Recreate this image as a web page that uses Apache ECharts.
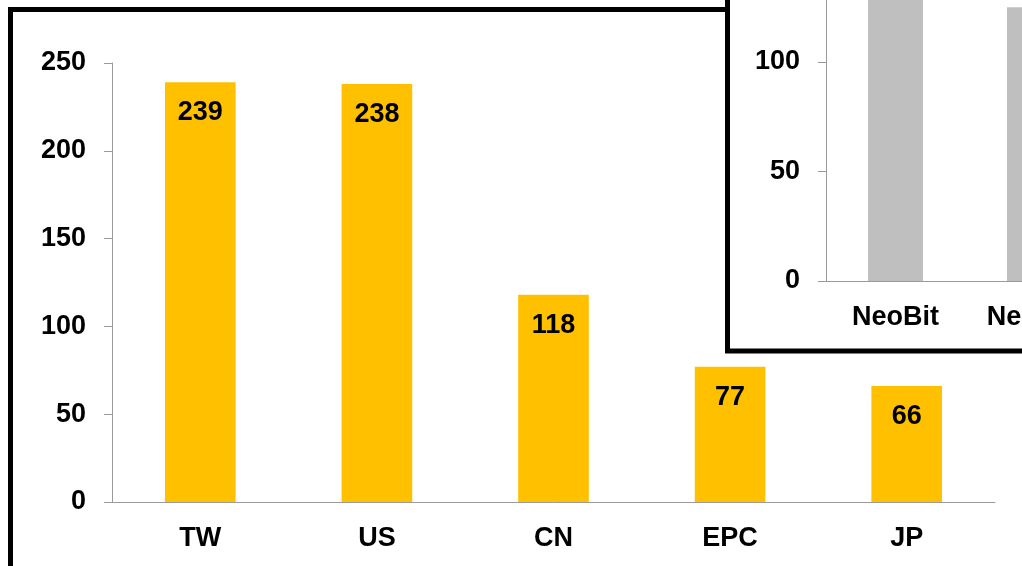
<!DOCTYPE html>
<html><head><meta charset="utf-8">
<script src="https://cdn.jsdelivr.net/npm/echarts@6/dist/echarts.min.js"></script>
<style>html,body{margin:0;padding:0;background:#fff}#c{width:1022px;height:566px}</style>
</head><body><div id="c"></div>
<script>
var mainCategories = ['TW', 'US', 'CN', 'EPC', 'JP'];
var mainValues = [239, 238, 118, 77, 66];
var insetCategories = ['NeoBit', 'NeoTec'];
var insetValues = [150, 125];

var FONT = '"Liberation Sans", Arial, sans-serif';
var axisGray = '#9a9a9a';

var chart = echarts.init(document.getElementById('c'), null, {renderer: 'canvas'});
chart.setOption({
  backgroundColor: '#ffffff',
  animation: false,
  grid: [
    {left: 112, right: 27, top: 63, bottom: 64, outerBoundsMode: 'none', containLabel: false},
    {left: 826, width: 278, bottom: 285, height: 328.5, z: 10, outerBoundsMode: 'none', containLabel: false}
  ],
  xAxis: [
    {
      type: 'category', gridIndex: 0, data: mainCategories,
      axisLine: {lineStyle: {color: axisGray, width: 1}},
      axisTick: {length: 8, lineStyle: {color: axisGray}},
      axisLabel: {color: '#000', fontFamily: FONT, fontSize: 27, fontWeight: 'bold', margin: 23}
    },
    {
      type: 'category', gridIndex: 1, data: insetCategories, z: 10,
      axisLine: {lineStyle: {color: axisGray, width: 1}},
      axisTick: {length: 8, lineStyle: {color: axisGray}},
      axisLabel: {color: '#000', fontFamily: FONT, fontSize: 27, fontWeight: 'bold', margin: 23,
        interval: 0, hideOverlap: false}
    }
  ],
  yAxis: [
    {
      type: 'value', gridIndex: 0, min: 0, max: 250, interval: 50,
      splitLine: {show: false},
      axisLine: {show: true, lineStyle: {color: axisGray, width: 1}},
      axisTick: {show: true, length: 8, lineStyle: {color: axisGray}},
      axisLabel: {color: '#000', fontFamily: FONT, fontSize: 27, fontWeight: 'bold', margin: 26}
    },
    {
      type: 'value', gridIndex: 1, min: 0, max: 150, interval: 50, z: 10,
      splitLine: {show: false},
      axisLine: {show: true, lineStyle: {color: axisGray, width: 1}},
      axisTick: {show: true, length: 8, lineStyle: {color: axisGray}},
      axisLabel: {color: '#000', fontFamily: FONT, fontSize: 27, fontWeight: 'bold', margin: 26,
        formatter: function (v) { return v > 100 ? '' : String(v); }}
    }
  ],
  series: [
    {
      type: 'bar', xAxisIndex: 0, yAxisIndex: 0, data: mainValues,
      barWidth: '40%', itemStyle: {color: '#FFC000'}, z: 2,
      label: {show: true, position: 'insideTop', distance: 17, color: '#000',
        fontFamily: FONT, fontSize: 27, fontWeight: 'bold'}
    },
    {
      type: 'bar', xAxisIndex: 1, yAxisIndex: 1, data: insetValues,
      barWidth: '39.6%', itemStyle: {color: '#BFBFBF'}, z: 12
    }
  ],
  graphic: [
    {type: 'rect', z: 1, silent: true,
      shape: {x: 10.5, y: 9.5, width: 1200, height: 800},
      style: {fill: null, stroke: '#000', lineWidth: 5}},
    {type: 'rect', z: 5, silent: true,
      shape: {x: 727.5, y: -60, width: 500, height: 411},
      style: {fill: '#fff', stroke: '#000', lineWidth: 5}}
  ]
});
</script></body></html>
